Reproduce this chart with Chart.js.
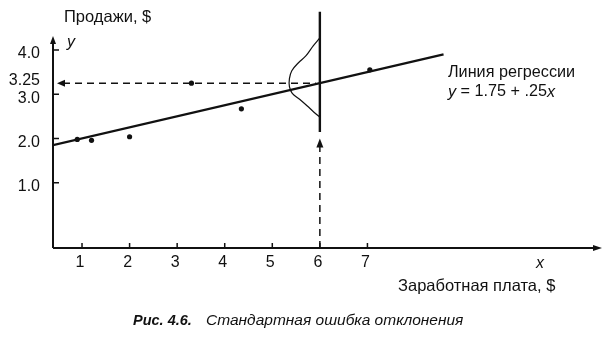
<!DOCTYPE html>
<html>
<head>
<meta charset="utf-8">
<script src="https://cdn.jsdelivr.net/npm/chart.js@4"></script>
<style>
  body { margin: 0; background: #fff; }
  canvas { display: block; }
</style>
</head>
<body>
<canvas id="Chart" width="605" height="340"></canvas>
<script>
// values
const xTicks = [1, 2, 3, 4, 5, 6, 7];
const yTicks = [1.0, 2.0, 3.0, 4.0];
const yTickLabels = ['1.0', '2.0', '3.0', '4.0'];
const predictedY = 3.25;
const predictedX = 6;

const salesX = [0.9, 1.2, 2.0, 3.3, 4.35, 7.05];
const salesY = [1.98, 1.96, 2.04, 3.25, 2.67, 3.55];

const regX = [0.39, 8.6];
const regY = [1.85, 3.9];

// bell curve drawn sideways at x = 6
const bellX = [6.0, 5.86, 5.71, 5.55, 5.41, 5.36, 5.36, 5.42, 5.58, 5.73, 5.87, 6.0];
const bellY = [4.27, 4.09, 3.87, 3.71, 3.53, 3.35, 3.17, 3.02, 2.88, 2.74, 2.60, 2.48];

const toPts = (xs, ys) => xs.map((x, i) => ({ x: x, y: ys[i] }));

const ink = '#111';
const FONT = '"Liberation Sans", Arial, sans-serif';

const lineDs = (data, extra) => Object.assign({
  data: data,
  showLine: true,
  borderColor: ink,
  borderWidth: 2,
  pointRadius: 0,
  fill: false
}, extra);

function arrow(ctx, x, y, dir, len, half) {
  // dir: 'left' | 'right' | 'up'
  ctx.beginPath();
  if (dir === 'left') { ctx.moveTo(x, y); ctx.lineTo(x + len, y - half); ctx.lineTo(x + len, y + half); }
  if (dir === 'right') { ctx.moveTo(x, y); ctx.lineTo(x - len, y - half); ctx.lineTo(x - len, y + half); }
  if (dir === 'up') { ctx.moveTo(x, y); ctx.lineTo(x - half, y + len); ctx.lineTo(x + half, y + len); }
  ctx.closePath();
  ctx.fill();
}

const decor = {
  id: 'decor',
  beforeDatasetsDraw(chart) {
    const ctx = chart.ctx;
    const xs = chart.scales.x, ys = chart.scales.y;
    const a = chart.chartArea;
    ctx.save();
    ctx.strokeStyle = ink;
    ctx.fillStyle = ink;

    // axes
    const yAxisTop = ys.getPixelForValue(4.27);
    ctx.lineWidth = 2;
    ctx.beginPath();
    ctx.moveTo(a.left, a.bottom);
    ctx.lineTo(a.right - 4, a.bottom);
    ctx.moveTo(a.left, a.bottom);
    ctx.lineTo(a.left, yAxisTop + 4);
    ctx.stroke();
    arrow(ctx, a.right + 1, a.bottom, 'right', 9, 3);
    arrow(ctx, a.left, yAxisTop - 2, 'up', 8, 3);

    // ticks
    ctx.lineWidth = 1.5;
    ctx.beginPath();
    xTicks.forEach(v => {
      const px = xs.getPixelForValue(v);
      ctx.moveTo(px, a.bottom);
      ctx.lineTo(px, a.bottom - 5);
    });
    yTicks.forEach(v => {
      const py = ys.getPixelForValue(v);
      ctx.moveTo(a.left, py);
      ctx.lineTo(a.left + 6, py);
    });
    ctx.stroke();

    // dashed guides
    const py325 = ys.getPixelForValue(predictedY);
    const px6 = xs.getPixelForValue(predictedX);
    ctx.lineWidth = 1.5;
    ctx.setLineDash([7, 5]);
    ctx.beginPath();
    ctx.moveTo(a.left + 10, py325);
    ctx.lineTo(px6 - 4, py325);
    ctx.moveTo(px6, a.bottom);
    ctx.lineTo(px6, ys.getPixelForValue(1.85));
    ctx.stroke();
    ctx.setLineDash([]);
    arrow(ctx, a.left + 4, py325, 'left', 8, 3.5);
    arrow(ctx, px6, ys.getPixelForValue(2.0), 'up', 9, 3.5);

    // tick labels
    ctx.font = '16px ' + FONT;
    ctx.textBaseline = 'middle';
    ctx.textAlign = 'center';
    xTicks.forEach(v => ctx.fillText(String(v), xs.getPixelForValue(v) - 2, a.bottom + 15));
    ctx.textAlign = 'right';
    yTicks.forEach((v, i) => ctx.fillText(yTickLabels[i], 40, ys.getPixelForValue(v) + 4));
    ctx.fillText('3.25', 40, py325 - 3);

    // axis names
    ctx.textAlign = 'left';
    ctx.font = '16.5px ' + FONT;
    ctx.fillText('Продажи, $', 64, 17);
    ctx.fillText('Заработная плата, $', 398, 286);
    ctx.font = 'italic 16px ' + FONT;
    ctx.fillText('y', 67, 43);
    ctx.fillText('x', 536, 264);

    // regression label
    ctx.font = '16.2px ' + FONT;
    ctx.fillText('Линия регрессии', 448, 73);
    ctx.font = 'italic 16.2px ' + FONT;
    ctx.fillText('y', 448, 92);
    ctx.font = '16.2px ' + FONT;
    ctx.fillText(' = 1.75 + .25', 456, 92);
    const w = ctx.measureText(' = 1.75 + .25').width;
    ctx.font = 'italic 16.2px ' + FONT;
    ctx.fillText('x', 456 + w, 92);

    // caption
    ctx.font = 'italic bold 14.5px ' + FONT;
    ctx.fillText('Рис. 4.6.', 133, 321);
    ctx.font = 'italic 15.5px ' + FONT;
    ctx.fillText('Стандартная ошибка отклонения', 206, 321);
    ctx.restore();
  }
};

new Chart(document.getElementById('Chart'), {
  type: 'scatter',
  data: {
    datasets: [
      lineDs(toPts(regX, regY), { borderWidth: 2.2 }),
      lineDs(toPts(bellX, bellY), { borderWidth: 1.2, tension: 0.4 }),
      lineDs(toPts([predictedX, predictedX], [4.86, 2.15]), { borderWidth: 2.4 }),
      {
        data: toPts(salesX, salesY),
        showLine: false,
        pointRadius: 2.6,
        pointBackgroundColor: ink,
        pointBorderWidth: 0
      }
    ]
  },
  options: {
    responsive: false,
    animation: false,
    layout: { padding: { left: 53, right: 2, top: 10, bottom: 92 } },
    plugins: { legend: { display: false }, tooltip: { enabled: false } },
    scales: {
      x: { type: 'linear', min: 0.39, max: 11.91, display: false },
      y: { type: 'linear', min: -0.47, max: 4.9, display: false }
    }
  },
  plugins: [decor]
});
</script>
</body>
</html>
